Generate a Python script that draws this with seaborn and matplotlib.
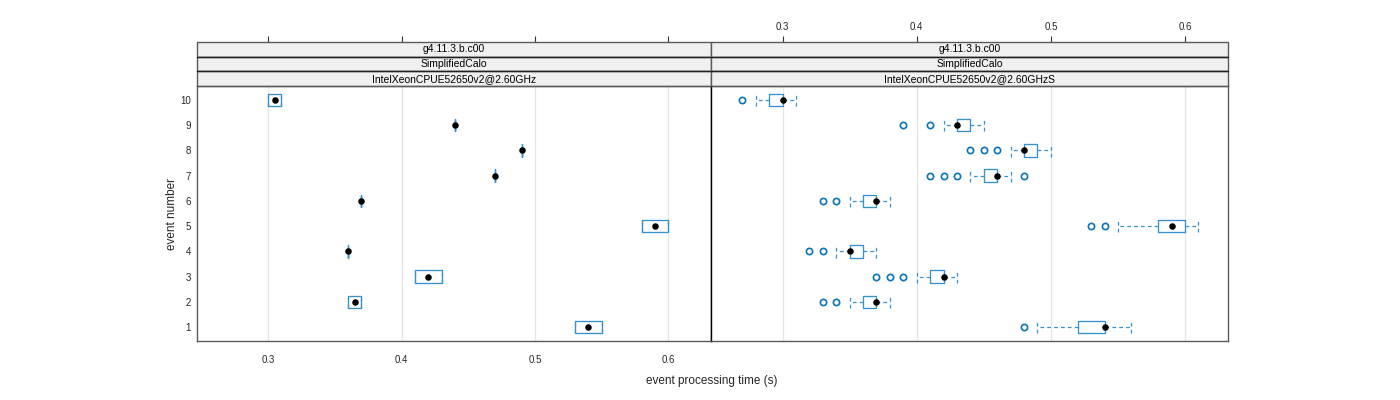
import numpy as np
import pandas as pd
import matplotlib
matplotlib.use("Agg")
import matplotlib.pyplot as plt
from matplotlib.patches import Rectangle
import seaborn as sns

# ---------------- data ----------------
events = [1, 2, 3, 4, 5, 6, 7, 8, 9, 10]
strip_top = "g4.11.3.b.c00"
strip_mid = "SimplifiedCalo"
machines = ["IntelXeonCPUE52650v2@2.60GHz", "IntelXeonCPUE52650v2@2.60GHzS"]

# panel 1
p1_q1 = [0.53, 0.36, 0.41, 0.36, 0.58, 0.37, 0.47, 0.49, 0.44, 0.30]
p1_med = [0.54, 0.365, 0.42, 0.36, 0.59, 0.37, 0.47, 0.49, 0.44, 0.305]
p1_q3 = [0.55, 0.37, 0.43, 0.36, 0.60, 0.37, 0.47, 0.49, 0.44, 0.31]
p1_lo = [0.53, 0.36, 0.41, 0.36, 0.58, 0.37, 0.47, 0.49, 0.44, 0.30]
p1_hi = [0.55, 0.37, 0.43, 0.36, 0.60, 0.37, 0.47, 0.49, 0.44, 0.31]
p1_out = [[], [], [], [], [], [], [], [], [], []]

# panel 2
p2_q1 = [0.52, 0.36, 0.41, 0.35, 0.58, 0.36, 0.45, 0.48, 0.43, 0.29]
p2_med = [0.54, 0.37, 0.42, 0.35, 0.59, 0.37, 0.46, 0.48, 0.43, 0.30]
p2_q3 = [0.54, 0.37, 0.42, 0.36, 0.60, 0.37, 0.46, 0.49, 0.44, 0.30]
p2_lo = [0.49, 0.35, 0.40, 0.34, 0.55, 0.35, 0.44, 0.47, 0.42, 0.28]
p2_hi = [0.56, 0.38, 0.43, 0.37, 0.61, 0.38, 0.47, 0.50, 0.45, 0.31]
p2_out = [[0.48], [0.33, 0.34], [0.37, 0.38, 0.39], [0.32, 0.33], [0.53, 0.54],
          [0.33, 0.34], [0.41, 0.42, 0.43, 0.48], [0.44, 0.45, 0.46], [0.39, 0.41], [0.27]]

xticks = [0.3, 0.4, 0.5, 0.6]
xtick_labels = ["0.3", "0.4", "0.5", "0.6"]

# ---------------- style ----------------
sns.set_theme(style="white")
plt.rcParams["font.family"] = ["Liberation Sans", "DejaVu Sans"]

BOX = "#3592cf"
OUT = "#0a74b4"
FRAME = "#5a5a5a"

W, H = 1400, 400
fig = plt.figure(figsize=(14, 4), dpi=100)

def fx(px):
    return px / W

def fy(py):
    return 1 - py / H

panel_top, panel_bot = 86, 341
strip_top_px = 42
lefts = [197, 711]
rights = [711, 1228]

panels = [
    (p1_q1, p1_med, p1_q3, p1_lo, p1_hi, p1_out),
    (p2_q1, p2_med, p2_q3, p2_lo, p2_hi, p2_out),
]

ph = panel_bot - panel_top
strip_h = (panel_top - strip_top_px) / 3.0

for i, (q1, med, q3, lo, hi, outl) in enumerate(panels):
    ax = fig.add_axes([fx(lefts[i]), fy(panel_bot), fx(rights[i] - lefts[i]), (panel_bot - panel_top) / H])
    ax.set_xlim(0.2467, 0.632)
    ax.set_ylim(0.45, 10.55)
    for xv in xticks:
        ax.axvline(xv, color="#e6e6e6", lw=0.9, zorder=0)

    stats = []
    for k in range(len(events)):
        stats.append(dict(med=med[k], q1=q1[k], q3=q3[k], whislo=lo[k], whishi=hi[k],
                          fliers=outl[k], label=str(events[k])))
    ax.bxp(stats, positions=events, widths=0.5, capwidths=0.5,
           orientation="horizontal", showfliers=True, manage_ticks=False,
           boxprops=dict(color=BOX, lw=0.95),
           whiskerprops=dict(color=BOX, lw=0.9, linestyle=(0, (3, 2.5))),
           capprops=dict(color=BOX, lw=0.9, linestyle=(0, (3, 2.5))),
           medianprops=dict(lw=0),
           flierprops=dict(marker="o", markersize=4.5, markerfacecolor="none",
                           markeredgecolor=OUT, markeredgewidth=1.2))
    dfm = pd.DataFrame({"time": med, "event": events})
    sns.scatterplot(data=dfm, x="time", y="event", ax=ax, color="black", s=22,
                    edgecolor="black", linewidth=0, zorder=5)
    ax.set_xlabel("")
    ax.set_ylabel("")

    for sp in ax.spines.values():
        sp.set_color(FRAME)
        sp.set_linewidth(1.0)
    if i == 0:
        ax.spines["right"].set_color("black")
    else:
        ax.spines["left"].set_color("black")

    ax.set_xticks(xticks)
    ax.tick_params(axis="x", direction="out", length=4, width=0.8, color="#333333",
                   labelsize=7, pad=6)
    if i == 0:
        ax.set_xticklabels(xtick_labels)
        ax.set_yticks(events)
        ax.set_yticklabels([str(e) for e in events])
        ax.tick_params(axis="y", direction="out", length=0, labelsize=7, pad=4.5)
    else:
        ax.set_xticklabels([])
        ax.set_yticks([])

    # strips
    for j, txt in enumerate([strip_top, strip_mid, machines[i]]):
        y0 = 1 + (2 - j) * strip_h / ph
        ax.add_patch(Rectangle((0, y0), 1, strip_h / ph, transform=ax.transAxes,
                               facecolor="#f0f0f0", edgecolor=FRAME, lw=1.0, clip_on=False, zorder=1))
        ax.text(0.5, y0 + strip_h / ph / 2, txt, transform=ax.transAxes, ha="center",
                va="center", fontsize=7.5, color="black", clip_on=False, zorder=2)
    for j in range(1, 3):
        y0 = 1 + j * strip_h / ph
        ax.plot([0, 1], [y0, y0], transform=ax.transAxes, color="#222222", lw=1.0, clip_on=False, zorder=3)

    # top axis
    sec = ax.secondary_xaxis(1 + 3 * strip_h / ph)
    sec.set_xticks(xticks)
    for sp in sec.spines.values():
        sp.set_visible(False)
    sec.tick_params(axis="x", direction="out", length=4, width=0.8, color="#333333",
                    labelsize=7, pad=3)
    if i == 1:
        sec.set_xticklabels(xtick_labels)
    else:
        sec.set_xticklabels([])

fig.text(fx(712), fy(381), "event processing time (s)", ha="center", va="center", fontsize=8.5)
fig.text(fx(172), fy(214), "event number", ha="center", va="center", fontsize=8.5, rotation=90)

fig.savefig("out.png", dpi=100)
